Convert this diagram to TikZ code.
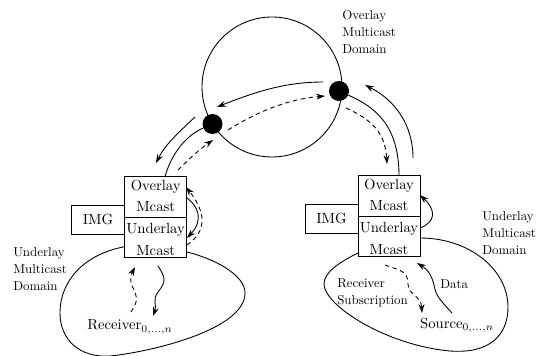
\documentclass[tikz,border=0pt]{standalone}
\usetikzlibrary{arrows.meta}
\begin{document}
\begin{tikzpicture}[x=0.68pt,y=-0.68pt,
  line/.style={line width=0.6pt,black},
  arr/.style={line,-{Stealth[length=6pt,width=4pt]}},
  darr/.style={arr,dash pattern=on 3pt off 2.4pt},
  dot/.style={circle,fill=black,minimum size=13.6pt,inner sep=0pt},
  box/.style={draw,line width=0.6pt,minimum width=42.2pt,minimum height=27.6pt,inner sep=0pt},
  img/.style={draw,line width=0.6pt,minimum width=36pt,minimum height=19.7pt,inner sep=0pt},
  side/.style={inner sep=0pt,align=left,anchor=west,scale=0.88,font=\fontsize{10}{13.2}\selectfont}]
\useasboundingbox (0,0) rectangle (537,356);
% overlay domain
\node[circle,draw,line width=0.6pt,minimum size=95.2pt,inner sep=0pt] (ring) at (272,87) {};
\node[dot] (dl) at (212.5,124) {};
\node[dot] (dr) at (339,91) {};
% stacks
\node[img] (imgl) at (98,219.5) {};
\node[box] (ol) at (155.7,197) {};
\node[box] (ul) at (155.7,237.5) {};
\node[img] (imgr) at (331.5,218.5) {};
\node[box] (or) at (389,196) {};
\node[box] (ur) at (389,236.5) {};
\node at (imgl) {IMG};
\node at (imgr) {IMG};
\node[inner sep=0pt] (ta) at (155.7,187) {Overlay};
\node[inner sep=0pt] (tb) at (155.7,207) {Mcast};
\node[inner sep=0pt] (tc) at (155.7,230) {Underlay};
\node[inner sep=0pt] (td) at (155.7,251) {Mcast};
\node[inner sep=0pt] (te) at (389,186) {Overlay};
\node[inner sep=0pt] (tf) at (389,206) {Mcast};
\node[inner sep=0pt] (tg) at (389,229) {Underlay};
\node[inner sep=0pt] (th) at (389,250) {Mcast};
% domains
\coordinate (bl1) at (124.7,246.7);
\coordinate (bl2) at (187,252);
\coordinate (br1) at (358,253);
\coordinate (br2) at (420,238);
\draw[line] (bl1) .. controls (85,254) and (60,280) .. (60,313)
  .. controls (60,340) and (80,358) .. (110,356)
  .. controls (150,352) and (245,330) .. (245,293)
  .. controls (245,275) and (215,259) .. (bl2);
\draw[line] (br1) .. controls (340,262) and (324,272) .. (324,284)
  .. controls (324,305) and (385,345) .. (450,351)
  .. controls (490,354) and (508,335) .. (508,307)
  .. controls (508,270) and (470,238) .. (br2);
% outer connectors
\coordinate (a1) at (195,117); \coordinate (a2) at (156,163);
\draw[arr] (a1) .. controls (178,133) and (165,145) .. (a2);
\coordinate (a0) at (165,176.7);
\draw[line] (a0) .. controls (171,155) and (185,136) .. (dl);
\coordinate (a3) at (178,170); \coordinate (a4) at (213,140);
\draw[darr] (a3) .. controls (190,158) and (200,149) .. (a4);
\coordinate (a5) at (323,82); \coordinate (a6) at (217,107);
\draw[arr] (a5) .. controls (285,82) and (255,92) .. (a6);
\coordinate (a7) at (228,130); \coordinate (a8) at (325,96);
\draw[darr] (a7) .. controls (260,110) and (290,99) .. (a8);
\coordinate (a00) at (399,176);
\draw[line] (dr) .. controls (375,107) and (399,125) .. (a00);
\coordinate (a9) at (413,158); \coordinate (a10) at (365,85);
\draw[arr] (a9) .. controls (413,125) and (395,100) .. (a10);
\coordinate (a11) at (346,108); \coordinate (a12) at (387,164);
\draw[darr] (a11) .. controls (372,120) and (385,132) .. (a12);
% left side loop
\coordinate (b1) at (187,198); \coordinate (b2) at (187,238);
\draw[arr] (b1) .. controls (198,206) and (204,220) .. (b2);
\coordinate (b3) at (187,245); \coordinate (b4) at (186,187);
\draw[darr] (b3) .. controls (200,236) and (212,220) .. (b4);
\coordinate (b5) at (131,312); \coordinate (b9) at (133,288); \coordinate (b6) at (135,267);
\draw[darr] (b5) .. controls (139,300) and (137,296) .. (b9) .. controls (129,279) and (131,275) .. (b6);
\coordinate (b7) at (158,266); \coordinate (b10) at (158,292); \coordinate (b8) at (153,316);
\draw[arr] (b7) .. controls (166,278) and (166,282) .. (b10) .. controls (152,300) and (157,305) .. (b8);
% right side
\coordinate (c1) at (420,228); \coordinate (c2) at (420,195);
\draw[arr] (c1) .. controls (436,222) and (436,210) .. (c2);
\coordinate (c3) at (385,265); \coordinate (c7) at (408,284); \coordinate (c4) at (422,313);
\draw[darr] (c3) .. controls (398,270) and (408,270) .. (c7) .. controls (408,295) and (421,295) .. (c4);
\coordinate (c5) at (452,313); \coordinate (c8) at (434,285); \coordinate (c6) at (417,263);
\draw[arr] (c5) .. controls (440,300) and (436,296) .. (c8) .. controls (431,272) and (425,268) .. (c6);
% labels
\node[side] (t1) at (342,32) {Overlay\\Multicast\\Domain};
\node[side] (t2) at (13,269) {Underlay\\Multicast\\Domain};
\node[side] (t3) at (482,233) {Underlay\\Multicast\\Domain};
\node[side] (t4) at (337,292.5) {Receiver\\Subscription};
\node[side] (t5) at (440,284) {Data};
\node[inner sep=0pt] (t6) at (130,327) {Receiver$_{0,\ldots,n}$};
\node[inner sep=0pt] (t7) at (457,325) {Source$_{0,\ldots,n}$};
\end{tikzpicture}
\end{document}
